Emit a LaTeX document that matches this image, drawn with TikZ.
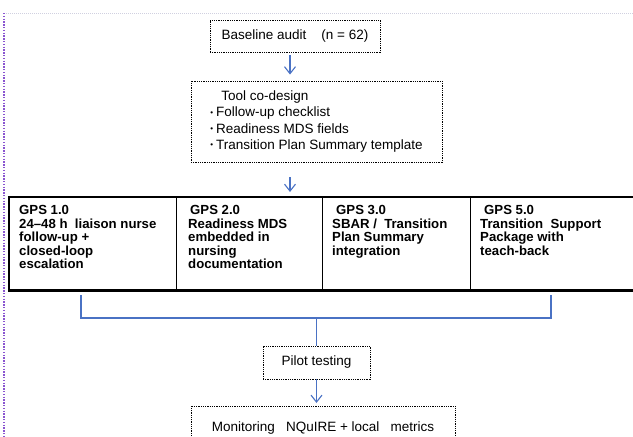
\documentclass[tikz,border=0pt]{standalone}
\usepackage{fontspec}
\setmainfont{Liberation Sans}
\usetikzlibrary{arrows.meta}
\definecolor{flowblue}{HTML}{4A72C4}
\definecolor{guidepurple}{HTML}{8A55D0}
\definecolor{guidegray}{HTML}{D0D0E0}
\begin{document}
\begin{tikzpicture}[x=1pt,y=-1pt,
  dotbox/.style={draw=black, line width=0.9pt, dash pattern=on 0.9pt off 0.9pt, inner sep=0pt},
  regtext/.style={font=\fontsize{13.5}{16.3}\selectfont},
  celltext/.style={anchor=north west, align=left, inner sep=0pt, font=\bfseries\fontsize{13.2}{13.6}\selectfont},
  flow/.style={draw=flowblue, line width=1.1pt},
  flowarrow/.style={flow, -{Straight Barb[length=7pt,width=11pt,line width=1.1pt]}},
]
\useasboundingbox (0,0) rectangle (633,437);
\clip (0,0) rectangle (633,437);

% faint guides
\draw[guidegray, line width=0.9pt, dash pattern=on 1pt off 1pt] (4,13) -- (633,13);
\draw[guidepurple, line width=1.8pt, dash pattern=on 1.4pt off 1.4pt] (4,13) -- (4,437);

% boxes
\node[dotbox, regtext, minimum width=170pt, minimum height=32pt] (base) at (295,36) {Baseline audit\ \ \ \ (n = 62)};

\node[dotbox, regtext, minimum width=251pt, minimum height=81pt, align=left] (tool) at (316.5,121.5)
  {\hspace{11pt}Tool co-design\\
   \raisebox{1.6pt}{\fontsize{8}{8}\selectfont•}\hspace{3pt}Follow-up checklist\\
   \raisebox{1.6pt}{\fontsize{8}{8}\selectfont•}\hspace{3pt}Readiness MDS fields\\
   \raisebox{1.6pt}{\fontsize{8}{8}\selectfont•}\hspace{3pt}Transition Plan Summary template};

% GPS row
\draw[line width=0.9pt] (176,197) -- (176,290) (322,197) -- (322,290) (470,197) -- (470,290);
\draw[line width=1.6pt] (9,290) -- (9,197) -- (640,197);
\draw[line width=3pt] (8,290) -- (640,290);

\node[celltext] (g1) at (19,205) {GPS 1.0\\24–48 h\ \ liaison nurse\\follow-up +\\closed-loop\\escalation};
\node[celltext] (g2) at (188,205) {\hspace{2pt}GPS 2.0\\Readiness MDS\\embedded in\\nursing\\documentation};
\node[celltext] (g3) at (332,205) {\hspace{4pt}GPS 3.0\\SBAR /\ \ Transition\\Plan Summary\\integration};
\node[celltext] (g4) at (480,205) {\hspace{4pt}GPS 5.0\\Transition\ \ Support\\Package with\\teach-back};

\node[dotbox, regtext, minimum width=107pt, minimum height=33pt] (pilot) at (316.5,362.5) {Pilot testing};
\node[dotbox, regtext, minimum width=264pt, minimum height=50pt, anchor=north] (mon) at (323,406)
  {\raisebox{10pt}{Monitoring\ \ \ NQuIRE + local\ \ \ metrics}};

% connectors
\coordinate (l1) at (81,295);
\coordinate (l2) at (81,318);
\coordinate (r1) at (551,295);
\coordinate (r2) at (551,318);
\coordinate (mid) at (316.5,318);

\draw[flowarrow] ([xshift=-5pt,yshift=-3pt]base.south) -- ([xshift=-5pt,yshift=6pt]base.south |- tool.north);
\draw[flowarrow] ([xshift=-5pt,yshift=-15pt]base.south |- tool.south) -- ([xshift=-5pt,yshift=13pt]base.south |- g1.north);
\draw[flow] (l1) -- (l2) -- (r2) -- (r1);
\draw[flow] (mid) -- (pilot.north);
\draw[flowarrow] (pilot.south) -- ([yshift=3pt]mon.north -| pilot.south);
\end{tikzpicture}
\end{document}
